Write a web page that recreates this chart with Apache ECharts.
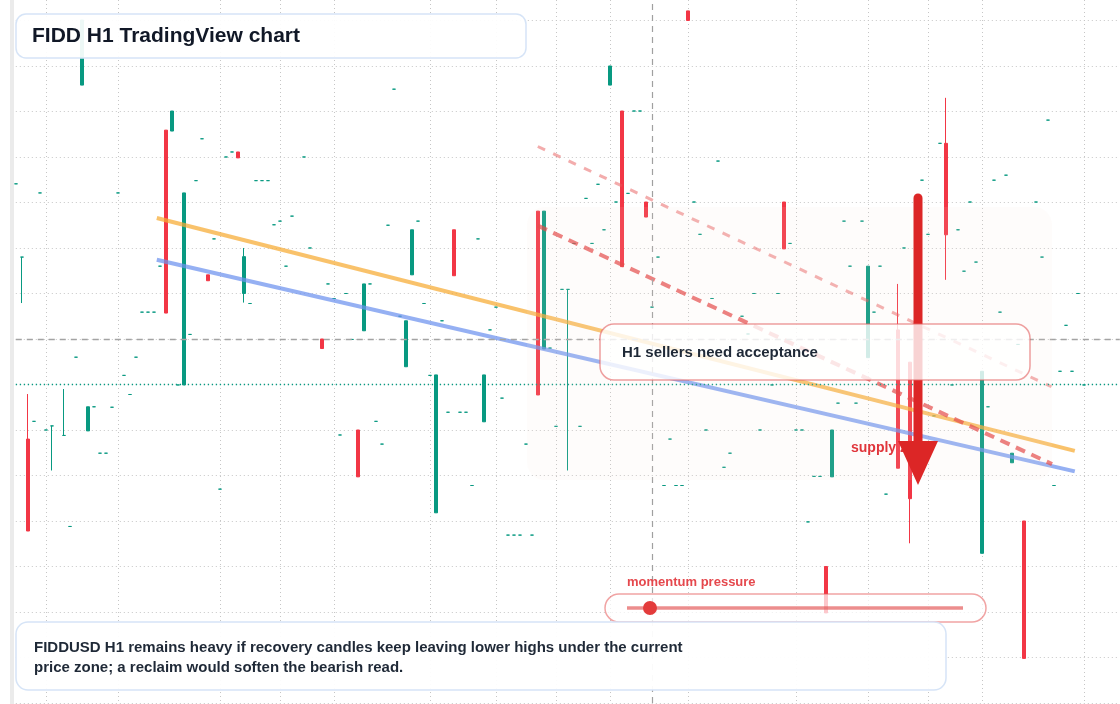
<!DOCTYPE html>
<html>
<head>
<meta charset="utf-8">
<script src="https://cdn.jsdelivr.net/npm/echarts@6/dist/echarts.min.js"></script>
<style>
html,body{margin:0;padding:0;background:#ffffff;}
#chart{width:1120px;height:704px;}
</style>
</head>
<body>
<div id="chart"></div>
<script>
// ---- data ----
const barCount = 185;
const times = [];
(function(){
  const start = Date.UTC(2025, 2, 10, 0, 0);
  for (let i = 0; i < barCount; i++) {
    const d = new Date(start + i * 3600000);
    const p = n => String(n).padStart(2, '0');
    times.push(p(d.getUTCMonth() + 1) + '-' + p(d.getUTCDate()) + ' ' + p(d.getUTCHours()) + ':00');
  }
})();

// [index, open, close, low, high]
const bars = [
  [1, 19.80, 19.80, 18.79, 19.80],
  [2, 15.80, 13.78, 13.78, 16.79],
  [6, 16.09, 16.09, 15.11, 16.09],
  [8, 15.88, 15.88, 15.88, 16.90],
  [11, 23.58, 25.01, 23.58, 25.01],
  [12, 15.98, 16.51, 15.98, 16.51],
  [25, 22.59, 18.57, 18.57, 22.59],
  [26, 22.57, 23.01, 22.57, 23.01],
  [28, 16.99, 21.21, 16.99, 21.21],
  [32, 19.41, 19.28, 19.28, 19.41],
  [37, 22.11, 21.98, 21.98, 22.11],
  [38, 19.00, 19.81, 18.80, 20.00],
  [51, 18.00, 17.79, 17.79, 18.00],
  [57, 16.00, 14.97, 14.97, 16.00],
  [58, 18.18, 19.21, 18.18, 19.21],
  [65, 17.39, 18.40, 17.39, 18.40],
  [66, 19.41, 20.40, 19.41, 20.40],
  [70, 14.18, 17.21, 14.18, 17.21],
  [73, 20.40, 19.39, 19.39, 20.40],
  [78, 16.18, 17.21, 16.18, 17.21],
  [87, 20.81, 16.77, 16.77, 20.81],
  [88, 17.78, 20.81, 17.78, 20.81],
  [92, 19.09, 19.09, 15.11, 19.09],
  [99, 23.58, 24.00, 23.58, 24.00],
  [101, 23.01, 19.59, 19.59, 23.01],
  [105, 21.01, 20.68, 20.68, 21.01],
  [112, 25.21, 25.00, 25.00, 25.21],
  [128, 21.01, 19.98, 19.98, 21.01],
  [135, 13.00, 11.98, 11.98, 13.00],
  [136, 14.97, 16.00, 14.97, 16.00],
  [142, 17.59, 19.60, 17.59, 19.60],
  [147, 18.20, 15.16, 15.16, 19.21],
  [149, 17.49, 14.49, 13.51, 17.49],
  [155, 22.30, 20.29, 19.30, 23.30],
  [161, 13.29, 17.29, 13.29, 17.29],
  [166, 15.28, 15.49, 15.28, 15.49],
  [168, 14.00, 10.98, 10.98, 14.00]
];

// flat (doji) candles: [index, price]
const dojis = [
  [0, 21.41], [3, 16.19], [4, 21.21], [5, 16.00], [9, 13.88], [10, 17.60],
  [13, 16.51], [14, 15.49], [15, 15.49], [16, 16.50], [17, 21.21], [18, 17.20],
  [19, 16.78], [20, 17.60], [21, 18.59], [22, 18.59], [23, 18.59], [24, 19.60],
  [27, 16.99], [29, 18.10], [30, 21.48], [31, 22.40], [33, 20.20], [34, 14.70],
  [35, 22.00], [36, 22.11], [39, 18.78], [40, 21.48], [41, 21.48], [42, 21.48],
  [43, 20.51], [44, 20.59], [45, 19.60], [46, 20.70], [48, 22.00], [49, 20.00],
  [52, 19.21], [53, 18.89], [54, 15.89], [55, 19.00], [56, 17.99], [59, 19.21],
  [60, 16.19], [61, 15.69], [62, 20.50], [63, 23.49], [64, 18.50], [67, 20.59],
  [68, 18.78], [69, 17.20], [71, 18.40], [72, 16.39], [74, 16.39], [75, 16.39],
  [76, 14.78], [77, 20.20], [79, 18.20], [80, 18.70], [81, 16.70], [82, 13.69],
  [83, 13.69], [84, 13.69], [85, 15.69], [86, 13.69], [89, 17.80], [90, 16.08],
  [91, 19.09], [93, 20.10], [94, 16.08], [95, 21.09], [96, 20.10], [97, 21.40],
  [98, 20.40], [100, 21.01], [102, 21.20], [103, 23.01], [104, 23.01], [106, 18.70],
  [107, 19.80], [108, 14.78], [109, 15.80], [110, 14.78], [111, 14.78], [113, 21.01],
  [114, 20.30], [115, 16.00], [116, 18.89], [117, 21.91], [118, 15.18], [119, 15.49],
  [121, 18.50], [122, 18.11], [123, 19.00], [124, 16.00], [125, 17.99], [126, 16.99],
  [127, 19.00], [129, 20.10], [130, 16.00], [131, 16.00], [132, 13.98], [133, 14.98],
  [134, 14.98], [137, 16.59], [138, 20.59], [139, 19.60], [140, 16.59], [141, 20.59],
  [143, 18.59], [144, 19.60], [145, 14.59], [148, 20.00], [151, 21.49], [152, 20.30],
  [153, 16.31], [154, 22.30], [156, 16.99], [157, 20.40], [158, 19.49], [159, 21.01],
  [160, 19.69], [162, 16.51], [163, 21.49], [164, 18.59], [165, 21.60], [167, 17.88],
  [170, 21.01], [171, 19.80], [172, 22.81], [173, 14.78], [174, 17.29], [175, 18.30],
  [176, 17.29], [177, 19.00], [178, 16.99]
];

// trend lines: [barIndex, price]
const orangeTrend = [[23.5, 20.66], [176.5, 15.54]];
const blueTrend = [[23.5, 19.74], [176.5, 15.09]];
const redTrend = [[87.0, 20.49], [172.7, 15.25]];
const redUpperTrend = [[87.0, 22.23], [172.6, 16.95]];

// reference levels
const levelDashed = 18;
const levelDotted = 17;
const nowIndex = 106;
const vGridIdx = [5, 17, 34, 44, 53, 69, 80, 90, 99, 112, 130, 142, 152, 161, 178];
const yMin = 10, yMax = 25.45, yStep = 1;

// ---- chart ----
const candleRows = bars.concat(dojis.map(d => [d[0], d[1], d[1], d[1], d[1]]));
candleRows.sort((a, b) => a[0] - b[0]);

const FONT = '"Liberation Sans", Arial, sans-serif';
const gridLine = { color: '#c6c6c6', width: 1, type: [1, 3] };

const chart = echarts.init(document.getElementById('chart'), null, { renderer: 'canvas' });
const option = {
  backgroundColor: '#ffffff',
  animation: false,
  grid: { left: 15.8, right: 0.2, top: 0, bottom: 1, outerBoundsMode: 'none' },
  xAxis: [
    {
      type: 'category', data: times, boundaryGap: false,
      axisLine: { show: false }, axisTick: { show: false }, axisLabel: { show: false },
      splitLine: { show: true, interval: (index) => vGridIdx.includes(index), lineStyle: gridLine }
    },
    { type: 'value', min: 0, max: barCount - 1, show: false, splitLine: { show: false } }
  ],
  yAxis: {
    type: 'value', min: yMin, max: yMax, interval: yStep, scale: true,
    axisLine: { show: false }, axisTick: { show: false }, axisLabel: { show: false },
    splitLine: { show: true, showMaxLine: false, lineStyle: gridLine }
  },
  series: [
    {
      type: 'candlestick', name: 'FIDDUSD H1',
      data: candleRows, encode: { x: 0, y: [1, 2, 3, 4] },
      barWidth: 4, clip: false, silent: true,
      itemStyle: {
        color: '#089981', color0: '#f23645',
        borderColor: '#089981', borderColor0: '#f23645', borderColorDoji: '#089981',
        borderWidth: 1
      },
      markLine: {
        silent: true, symbol: ['none', 'none'], label: { show: false },
        data: [
          { yAxis: levelDashed, lineStyle: { color: '#a3a3a3', type: [6, 5], width: 1.3 } },
          { yAxis: levelDotted, lineStyle: { color: '#089981', type: [1.3, 2.7], width: 1.3 } },
          { xAxis: times[nowIndex], lineStyle: { color: '#a0a0a0', type: [6, 5], width: 1.2 } }
        ]
      }
    },
    { type: 'line', xAxisIndex: 1, data: orangeTrend, symbol: 'none', silent: true, z: 3,
      lineStyle: { color: 'rgba(247,170,50,0.72)', width: 4 } },
    { type: 'line', xAxisIndex: 1, data: blueTrend, symbol: 'none', silent: true, z: 3,
      lineStyle: { color: 'rgba(108,146,238,0.72)', width: 4 } },
    { type: 'line', xAxisIndex: 1, data: redTrend, symbol: 'none', silent: true, z: 3,
      lineStyle: { color: 'rgba(226,60,60,0.7)', width: 4, type: [10, 7] } },
    { type: 'line', xAxisIndex: 1, data: redUpperTrend, symbol: 'none', silent: true, z: 3,
      lineStyle: { color: 'rgba(232,90,90,0.5)', width: 3, type: [8, 9] } }
  ],
  graphic: [
    { type: 'rect', z: 1, silent: true, shape: { x: 10, y: 0, width: 4, height: 704 }, style: { fill: '#ebebeb' } },
    { type: 'rect', z: 50, silent: true, shape: { x: 527, y: 207, width: 525, height: 273, r: 18 },
      style: { fill: 'rgba(250,228,212,0.1)' } },
    { type: 'text', z: 60, silent: true, x: 851, y: 448,
      style: { text: 'supply zone', fill: '#e0353b', fontSize: 14, fontWeight: 'bold', fontFamily: FONT, verticalAlign: 'middle' } },
    { type: 'line', z: 70, silent: true, shape: { x1: 918, y1: 198, x2: 918, y2: 450 },
      style: { stroke: '#dc2626', lineWidth: 9, lineCap: 'round' } },
    { type: 'polygon', z: 70, silent: true, shape: { points: [[898, 441], [938, 441], [918, 485]] },
      style: { fill: '#dc2626' } },
    { type: 'rect', z: 80, silent: true, shape: { x: 600, y: 324, width: 430, height: 56, r: 14 },
      style: { fill: 'rgba(255,255,255,0.8)', stroke: 'rgba(226,96,96,0.6)', lineWidth: 1.5 } },
    { type: 'text', z: 81, silent: true, x: 622, y: 353,
      style: { text: 'H1 sellers need acceptance', fill: '#1f2937', fontSize: 15, fontWeight: 'bold', fontFamily: FONT, verticalAlign: 'middle' } },
    { type: 'rect', z: 90, silent: true, shape: { x: 16, y: 14, width: 510, height: 44, r: 10 },
      style: { fill: 'rgba(255,255,255,0.93)', stroke: '#d6e4f7', lineWidth: 1.5 } },
    { type: 'text', z: 91, silent: true, x: 32, y: 36,
      style: { text: 'FIDD H1 TradingView chart', fill: '#111827', fontSize: 21, fontWeight: 'bold', fontFamily: FONT, verticalAlign: 'middle' } },
    { type: 'text', z: 85, silent: true, x: 627, y: 582.5,
      style: { text: 'momentum pressure', fill: '#e5484d', fontSize: 13, fontWeight: 'bold', fontFamily: FONT, verticalAlign: 'middle' } },
    { type: 'rect', z: 85, silent: true, shape: { x: 605, y: 594, width: 381, height: 28, r: 14 },
      style: { fill: 'rgba(255,255,255,0.72)', stroke: 'rgba(230,90,90,0.55)', lineWidth: 1.5 } },
    { type: 'line', z: 86, silent: true, shape: { x1: 627, y1: 608, x2: 963, y2: 608 },
      style: { stroke: 'rgba(226,80,80,0.65)', lineWidth: 3.5 } },
    { type: 'circle', z: 87, silent: true, shape: { cx: 650, cy: 608, r: 7 }, style: { fill: '#e33b3b' } },
    { type: 'rect', z: 90, silent: true, shape: { x: 16, y: 622, width: 930, height: 68, r: 12 },
      style: { fill: 'rgba(255,255,255,0.95)', stroke: '#d6e4f7', lineWidth: 1.5 } },
    { type: 'text', z: 91, silent: true, x: 34, y: 648,
      style: { text: 'FIDDUSD H1 remains heavy if recovery candles keep leaving lower highs under the current', fill: '#1f2937', fontSize: 15, fontWeight: 'bold', fontFamily: FONT, verticalAlign: 'middle' } },
    { type: 'text', z: 91, silent: true, x: 34, y: 668,
      style: { text: 'price zone; a reclaim would soften the bearish read.', fill: '#1f2937', fontSize: 15, fontWeight: 'bold', fontFamily: FONT, verticalAlign: 'middle' } }
  ]
};
chart.setOption(option);
</script>
</body>
</html>
